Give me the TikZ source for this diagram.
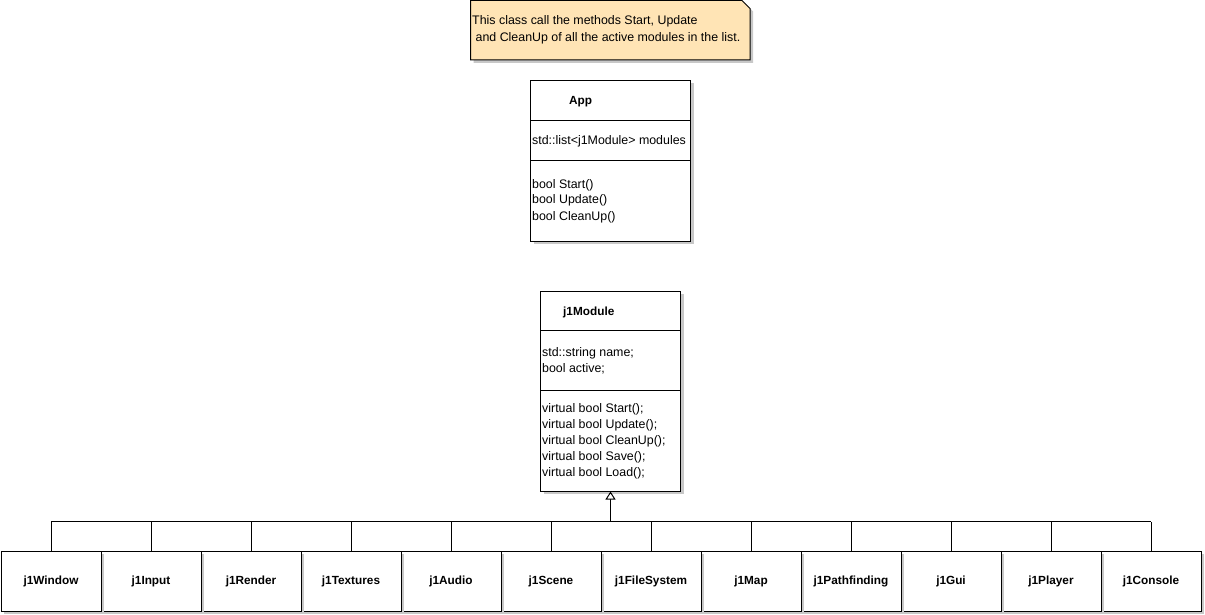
\documentclass[tikz,border=0pt]{standalone}
\usepackage{fontspec}
\setmainfont{Liberation Sans}
\usetikzlibrary{arrows.meta}
\definecolor{notefill}{RGB}{255,228,181}
\definecolor{shadowgray}{RGB}{200,200,200}
\begin{document}
\begin{tikzpicture}[x=1pt,y=-1pt,
  shad/.style={fill=shadowgray,draw=none},
  umlbox/.style={draw=black,line width=1pt,fill=white,inner sep=0pt,anchor=north west},
  txt/.style={font=\fontsize{12.4}{16}\selectfont,inner sep=0pt,anchor=base west},
  btxt/.style={font=\bfseries\fontsize{11.8}{16}\selectfont,inner sep=0pt},
  conn/.style={line width=1pt,draw=black},
  inherit/.style={conn,-{Triangle[open,length=8pt,width=10pt,fill=white]}}]
\useasboundingbox[fill=white] (0,0) rectangle (1205,615);

% note
\fill[shad] (473.5,3.5) -- (745,3.5) -- (753,11.5) -- (753,63) -- (473.5,63) -- cycle;
\draw[conn,fill=notefill] (470.5,0.5) -- (742,0.5) -- (750,8.5) -- (750,60) -- (470.5,60) -- cycle;
\node[txt,align=left,font=\fontsize{12.4}{17}\selectfont] (note) at (472,42) {This class call the methods Start, Update\\\ and CleanUp of all the active modules in the list.};

% App
\fill[shad] (533.5,83.5) rectangle (693.5,243.5);
\node[umlbox,minimum width=160pt,minimum height=160pt] (app) at (530,80.5) {};
\draw[conn] ([yshift=-40pt]app.north west) -- ([yshift=-40pt]app.north east);
\draw[conn] ([yshift=-80pt]app.north west) -- ([yshift=-80pt]app.north east);
\node[btxt,anchor=base west] (apptitle) at (569,105) {App};
\node[txt] (appattr) at (532,145) {std::list<j1Module> modules};
\node[txt] (appm1) at (532,188) {bool Start()};
\node[txt] (appm2) at (532,204) {bool Update()};
\node[txt] (appm3) at (532,220) {bool CleanUp()};

% j1Module
\fill[shad] (543.5,293.5) rectangle (683.5,493.5);
\node[umlbox,minimum width=140pt,minimum height=200pt] (mod) at (540,290.5) {};
\draw[conn] ([yshift=-40pt]mod.north west) -- ([yshift=-40pt]mod.north east);
\draw[conn] ([yshift=-100pt]mod.north west) -- ([yshift=-100pt]mod.north east);
\node[btxt,anchor=base west] (modtitle) at (563,315) {j1Module};
\node[txt] (moda1) at (542,356) {std::string name;};
\node[txt] (moda2) at (542,372) {bool active;};
\node[txt] (modm1) at (542,412) {virtual bool Start();};
\node[txt] (modm2) at (542,428) {virtual bool Update();};
\node[txt] (modm3) at (542,444) {virtual bool CleanUp();};
\node[txt] (modm4) at (542,460) {virtual bool Save();};
\node[txt] (modm5) at (542,476) {virtual bool Load();};

% subclasses (drawn right to left so each shadow overlaps the next box)
\foreach \i/\n in {11/j1Console,10/j1Player,9/j1Gui,8/j1Pathfinding,7/j1Map,6/j1FileSystem,5/j1Scene,4/j1Audio,3/j1Textures,2/j1Render,1/j1Input,0/j1Window}{
  \fill[shad] (100*\i+3.5,553.5) rectangle (100*\i+103.5,613.5);
  \node[umlbox,minimum width=100pt,minimum height=60pt] (b\i) at (100*\i+0.5,550.5) {};
  \node[btxt] (l\i) at (b\i.center) {\n};
}

% inheritance connectors
\path (mod.south) ++(0,30) coordinate (bus);
\draw[conn] (b0.north |- bus) -- (b11.north |- bus);
\foreach \i in {0,...,11}{
  \draw[conn] (b\i.north) -- (b\i.north |- bus);
}
\draw[inherit] (bus) -- (mod.south);
\end{tikzpicture}
\end{document}
